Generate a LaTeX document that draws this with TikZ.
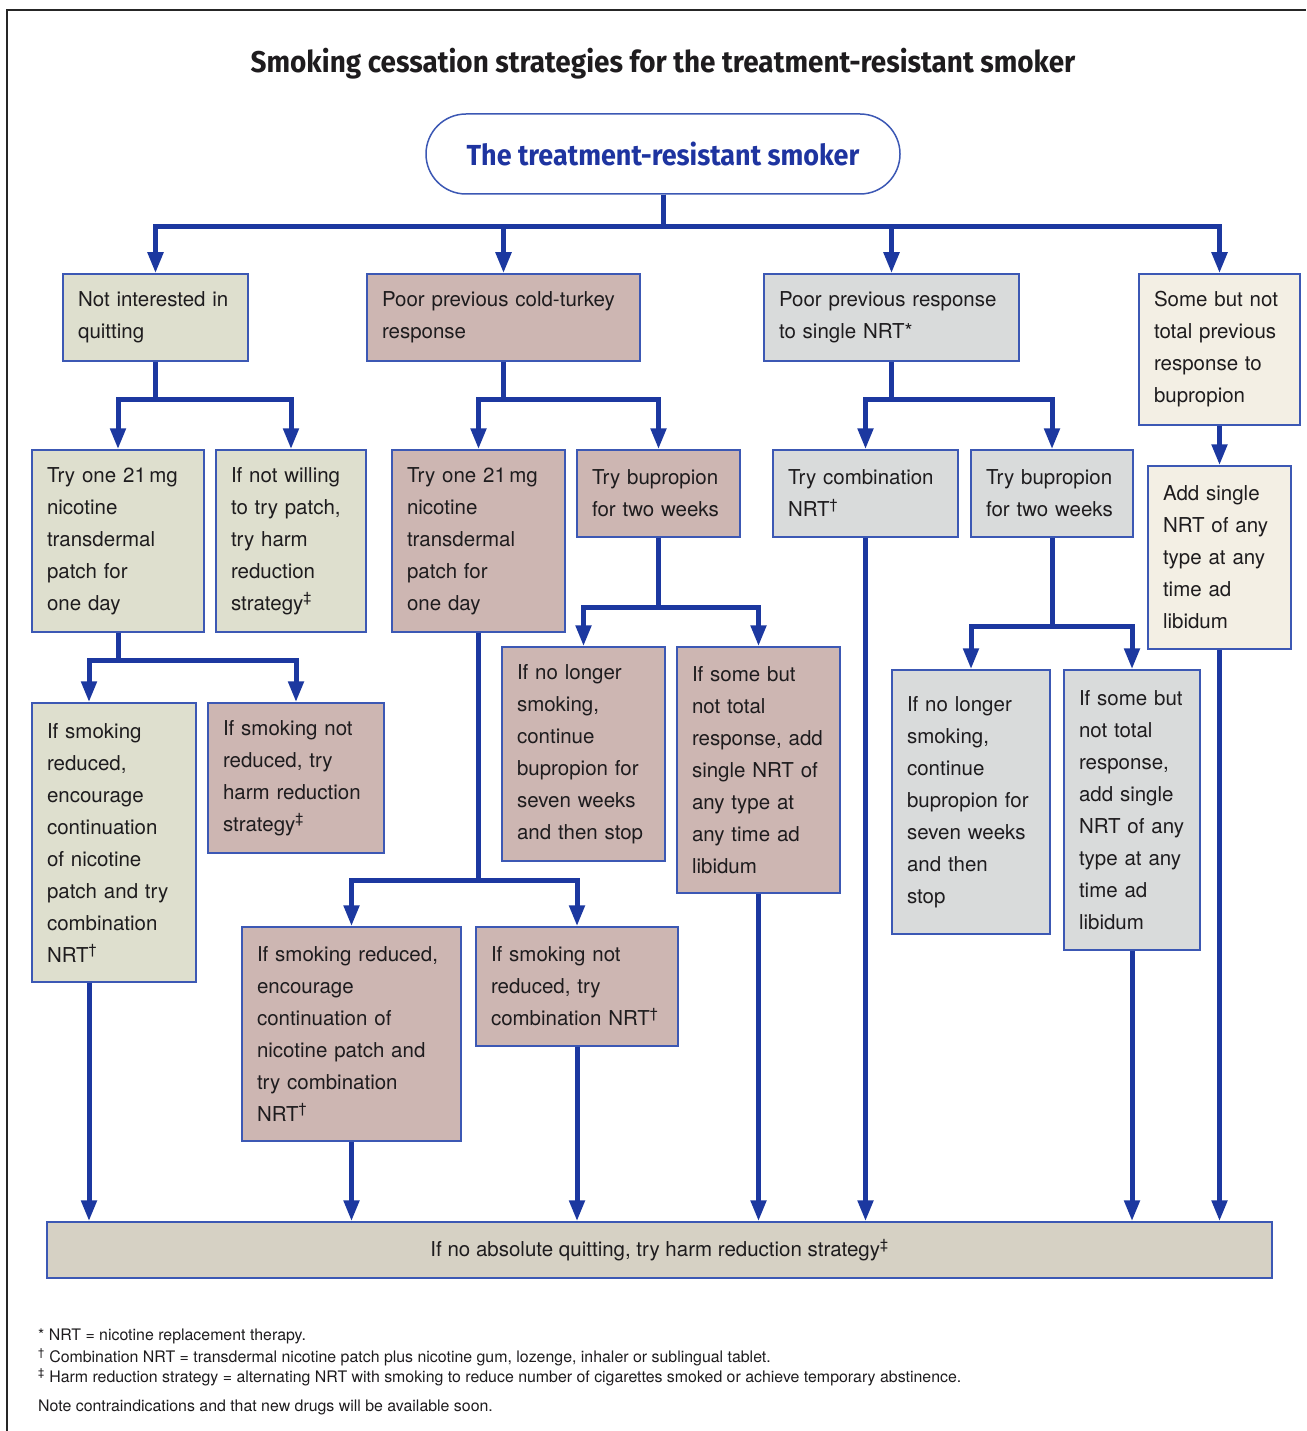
\documentclass[tikz,border=0pt]{standalone}
\usepackage{fontspec}
\setsansfont{TeX Gyre Heros}
\newfontfamily\titlefont{Fira Sans}[FakeStretch=0.93]
\usepackage{xcolor}
\tikzset{every picture/.style={/utils/exec={\sffamily}}}
\usetikzlibrary{calc}
\usetikzlibrary{arrows.meta}

\definecolor{flowblue}{RGB}{28,56,160}
\definecolor{edgeblue}{RGB}{60,88,180}
\definecolor{rootblue}{RGB}{30,52,160}
\definecolor{inkblack}{RGB}{30,28,30}
\definecolor{sage}{RGB}{222,223,206}
\definecolor{rose}{RGB}{205,182,178}
\definecolor{stone}{RGB}{217,219,219}
\definecolor{cream}{RGB}{243,239,228}
\definecolor{sand}{RGB}{214,209,196}

\tikzset{
  cell/.style 2 args={draw=edgeblue, line width=1.5pt, inner sep=0pt, align=left,
    minimum width=#1pt, minimum height=#2pt, text width=#1pt-30pt,
    font=\fontsize{20.5}{32}\selectfont, text=inkblack},
  flow/.style={draw=flowblue, line width=5pt, -{Triangle[length=21pt,width=15pt]}},
  foot/.style={anchor=west, inner sep=0pt, font=\fontsize{15.9}{19}\selectfont, text=inkblack}
}

\begin{document}
\begin{tikzpicture}[x=1pt, y=-1pt]
  \useasboundingbox (0,0) rectangle (1306,1431);
  \draw[line width=2pt, black!85] (7,1431) -- (7,10) -- (1306,10);

  \node[font=\titlefont\bfseries\fontsize{30}{34}\selectfont, text=inkblack] (title) at (663,64)
    {Smoking cessation strategies for the treatment-resistant smoker};
  \node[draw=edgeblue, line width=1.5pt, rounded corners=40pt, minimum width=474pt, minimum height=80pt,
    text=rootblue, font=\titlefont\bfseries\fontsize{29}{34}\selectfont] (root) at (663,154)
    {The treatment-resistant smoker};

  % first row
  \node[cell={185}{87}, fill=sage] (notint) at (155.5,317.5) {Not interested in\\quitting};
  \node[cell={273}{87}, fill=rose] (cold) at (503.5,317.5) {Poor previous cold-turkey\\response};
  \node[cell={255}{87}, fill=stone] (single) at (891.5,317.5) {Poor previous response\\to single NRT*};
  \node[cell={161}{151}, fill=cream] (somebup) at (1219.5,349.5) {Some but not\\total previous\\response to\\bupropion};

  % second row
  \node[cell={172}{182}, fill=sage] (notint-patch) at (118,541) {Try one 21\,mg\\nicotine\\transdermal\\patch for\\one day};
  \node[cell={150}{182}, fill=sage] (notint-harm) at (291,541) {If not willing\\to try patch,\\try harm\\reduction\\strategy\textsuperscript{‡}};
  \node[cell={173}{182}, fill=rose] (cold-patch) at (478.5,541) {Try one 21\,mg\\nicotine\\transdermal\\patch for\\one day};
  \node[cell={163}{87}, fill=rose] (cold-bup) at (658.5,493.5) {Try bupropion\\for two weeks};
  \node[cell={185}{87}, fill=stone] (single-comb) at (865.5,493.5) {Try combination\\NRT\textsuperscript{†}};
  \node[cell={162}{87}, fill=stone] (single-bup) at (1052,493.5) {Try bupropion\\for two weeks};
  \node[cell={143}{183}, fill=cream] (somebup-add) at (1219.5,557.5) {Add single\\NRT of any\\type at any\\time ad\\libidum};

  % third row
  \node[cell={164}{279}, fill=sage] (patch-red) at (114,842.5) {If smoking\\reduced,\\encourage\\continuation\\of nicotine\\patch and try\\combination\\NRT\textsuperscript{†}};
  \node[cell={176}{150}, fill=rose] (patch-notred) at (296,778) {If smoking not\\reduced, try\\harm reduction\\strategy\textsuperscript{‡}};
  \node[cell={163}{214}, fill=rose] (coldbup-stop) at (583.5,754) {If no longer\\smoking,\\continue\\bupropion for\\seven weeks\\and then stop};
  \node[cell={163}{246}, fill=rose] (coldbup-add) at (758.5,770) {If some but\\not total\\response, add\\single NRT of\\any type at\\any time ad\\libidum};
  \node[cell={158}{264}, fill=stone] (singlebup-stop) at (971,802) {If no longer\\smoking,\\continue\\bupropion for\\seven weeks\\and then\\stop};
  \node[cell={136}{280}, fill=stone] (singlebup-add) at (1132,810) {If some but\\not total\\response,\\add single\\NRT of any\\type at any\\time ad\\libidum};

  % fourth row
  \node[cell={219}{214}, fill=rose] (coldpatch-red) at (351.5,1034) {If smoking reduced,\\encourage\\continuation of\\nicotine patch and\\try combination\\NRT\textsuperscript{†}};
  \node[cell={202}{119}, fill=rose] (coldpatch-notred) at (577,986.5) {If smoking not\\reduced, try\\combination NRT\textsuperscript{†}};

  \node[draw=edgeblue, line width=1.5pt, fill=sand, minimum width=1225pt, minimum height=56pt,
    font=\fontsize{20.5}{32}\selectfont, text=inkblack] (bar) at (659.5,1250)
    {If no absolute quitting, try harm reduction strategy\textsuperscript{‡}};

  % connectors
  \foreach \n in {notint,cold,single,somebup}
    \draw[flow] (root.south) -- ++(0,32) -| (\n.north);
  \foreach \n in {notint-patch,notint-harm}
    \draw[flow] (notint.south) -- ++(0,38) -| (\n.north);
  \draw[flow] (notint-patch.south) -- ++(0,28) -| ([xshift=-25pt]patch-red.north);
  \draw[flow] (notint-patch.south) -- ++(0,28) -| (patch-notred.north);
  \foreach \n in {cold-patch,cold-bup}
    \draw[flow] (cold.south) -- ++(0,38) -| (\n.north);
  \foreach \n in {coldpatch-red,coldpatch-notred}
    \draw[flow] (cold-patch.south) -- ++(0,248) -| (\n.north);
  \foreach \n in {coldbup-stop,coldbup-add}
    \draw[flow] (cold-bup.south) -- ++(0,70) -| (\n.north);
  \foreach \n in {single-comb,single-bup}
    \draw[flow] (single.south) -- ++(0,38) -| (\n.north);
  \foreach \n in {singlebup-stop,singlebup-add}
    \draw[flow] (single-bup.south) -- ++(0,89) -| (\n.north);
  \draw[flow] (somebup.south) -- (somebup-add.north);

  % into the bottom bar
  \draw[flow] ([xshift=-25pt]patch-red.south) -- ([xshift=-25pt]patch-red.south |- bar.north);
  \foreach \n in {coldpatch-red,coldpatch-notred,coldbup-add,single-comb,singlebup-add,somebup-add}
    \draw[flow] (\n.south) -- (\n.south |- bar.north);

  % footnotes
  \node[foot] (fn-star) at (38,1336) {* NRT = nicotine replacement therapy.};
  \node[foot] (fn-dag) at (38,1357) {\textsuperscript{†} Combination NRT = transdermal nicotine patch plus nicotine gum, lozenge, inhaler or sublingual tablet.};
  \node[foot] (fn-ddag) at (38,1377) {\textsuperscript{‡} Harm reduction strategy = alternating NRT with smoking to reduce number of cigarettes smoked or achieve temporary abstinence.};
  \node[foot] (fn-note) at (38,1407) {Note contraindications and that new drugs will be available soon.};
\end{tikzpicture}
\end{document}
